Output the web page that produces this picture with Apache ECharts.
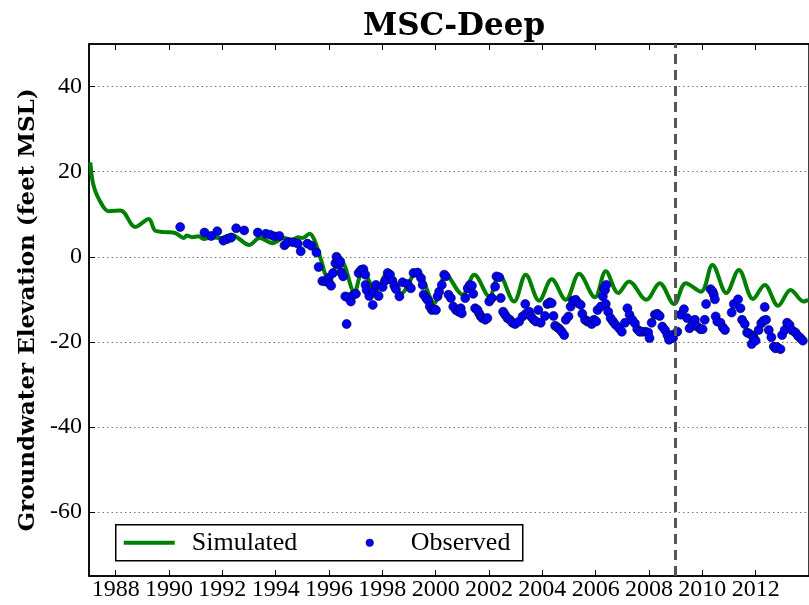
<!DOCTYPE html>
<html>
<head>
<meta charset="utf-8">
<script src="https://cdn.jsdelivr.net/npm/echarts@6/dist/echarts.min.js"></script>
<style>
  html, body { margin: 0; padding: 0; background: #fff; }
  #chart { width: 809px; height: 605px; }
</style>
</head>
<body>
<div id="chart"></div>
<script>
// simulated heads (decimal year, feet MSL)
const simYears = [
    1987.05, 1987.18, 1987.49, 1987.74, 1988.18, 1988.74, 1989.24, 1989.49, 1989.86, 1990.23,
    1990.55, 1990.67, 1990.86, 1991.11, 1991.30, 1991.61, 1991.98, 1992.33, 1993.02, 1993.39,
    1993.89, 1994.30, 1994.64, 1994.83, 1995.01, 1995.27, 1995.45, 1995.70, 1995.95, 1996.45,
    1996.95, 1997.26, 1997.76, 1998.20, 1998.70, 1999.30, 1999.95, 2000.38, 2001.01, 2001.45,
    2002.01, 2002.38, 2002.94, 2003.38, 2003.88, 2004.35, 2004.88, 2005.38, 2005.97, 2006.38,
    2006.85, 2007.25, 2007.90, 2008.40, 2008.94, 2009.38, 2009.95, 2010.38, 2010.90, 2011.37,
    2011.90, 2012.34, 2012.84, 2013.31, 2013.80, 2013.97
];
const simValues = [
    22.2, 16.5, 12.2, 10.7, 10.9, 7.0, 8.9, 6.1, 5.8, 5.6,
    4.4, 5.0, 4.6, 4.8, 4.2, 4.6, 4.4, 5.2, 2.8, 4.4,
    3.2, 4.4, 4.0, 4.6, 4.4, 5.4, 4.0, -0.7, -4.6, -1.1,
    -8.2, -3.4, -7.8, -3.8, -8.6, -3.5, -10.8, -4.2, -8.9, -4.2,
    -9.3, -4.2, -10.5, -4.2, -10.3, -5.3, -10.1, -4.0, -9.5, -3.4,
    -8.5, -5.8, -10.1, -6.2, -11.1, -6.2, -8.2, -1.9, -8.5, -3.1,
    -9.9, -6.6, -11.5, -7.8, -10.5, -10.1
];

// observed heads
const obsYears = [
    1990.42, 1991.33, 1991.58, 1991.81, 1992.04, 1992.19, 1992.33, 1992.52, 1992.82, 1993.33,
    1993.63, 1993.79, 1993.94, 1994.14, 1994.33, 1994.45, 1994.66, 1994.83, 1994.94, 1995.19,
    1995.34, 1995.53, 1995.61, 1995.75, 1995.88, 1995.99, 1996.01, 1996.08, 1996.15, 1996.24,
    1996.28, 1996.33, 1996.37, 1996.42, 1996.46, 1996.53, 1996.61, 1996.66, 1996.70, 1996.82,
    1996.92, 1997.01, 1997.11, 1997.20, 1997.29, 1997.36, 1997.37, 1997.41, 1997.51, 1997.64,
    1997.67, 1997.76, 1997.86, 1998.01, 1998.11, 1998.20, 1998.29, 1998.38, 1998.45, 1998.51,
    1998.64, 1998.76, 1998.95, 1999.07, 1999.17, 1999.32, 1999.45, 1999.51, 1999.55, 1999.64,
    1999.72, 1999.78, 1999.86, 1999.95, 2000.01, 2000.07, 2000.13, 2000.23, 2000.32, 2000.38,
    2000.48, 2000.57, 2000.66, 2000.76, 2000.86, 2000.94, 2000.98, 2001.11, 2001.20, 2001.28,
    2001.36, 2001.41, 2001.48, 2001.57, 2001.63, 2001.69, 2001.75, 2001.86, 2001.94, 2002.01,
    2002.11, 2002.23, 2002.28, 2002.38, 2002.44, 2002.53, 2002.60, 2002.69, 2002.78, 2002.88,
    2002.98, 2003.13, 2003.26, 2003.36, 2003.38, 2003.51, 2003.57, 2003.66, 2003.76, 2003.85,
    2003.94, 2004.10, 2004.19, 2004.28, 2004.35, 2004.42, 2004.48, 2004.57, 2004.65, 2004.73,
    2004.82, 2004.88, 2004.98, 2005.06, 2005.15, 2005.25, 2005.35, 2005.44, 2005.50, 2005.60,
    2005.69, 2005.75, 2005.85, 2005.94, 2006.02, 2006.07, 2006.19, 2006.27, 2006.31, 2006.35,
    2006.40, 2006.38, 2006.47, 2006.56, 2006.65, 2006.75, 2006.88, 2006.98, 2007.10, 2007.19,
    2007.27, 2007.37, 2007.47, 2007.56, 2007.65, 2007.75, 2007.87, 2007.97, 2008.02, 2008.10,
    2008.22, 2008.31, 2008.40, 2008.50, 2008.60, 2008.69, 2008.75, 2008.85, 2008.90, 2009.06,
    2009.18, 2009.31, 2009.43, 2009.52, 2009.62, 2009.72, 2009.81, 2009.93, 2010.01, 2010.09,
    2010.14, 2010.31, 2010.39, 2010.43, 2010.47, 2010.50, 2010.56, 2010.68, 2010.77, 2010.85,
    2011.10, 2011.18, 2011.34, 2011.43, 2011.49, 2011.59, 2011.68, 2011.77, 2011.85, 2011.90,
    2011.93, 2012.00, 2012.11, 2012.21, 2012.30, 2012.34, 2012.39, 2012.49, 2012.59, 2012.68,
    2012.74, 2012.80, 2012.93, 2012.99, 2013.09, 2013.18, 2013.27, 2013.37, 2013.49, 2013.59,
    2013.68, 2013.77
];
const obsValues = [
    7.0, 5.7, 4.9, 6.0, 3.8, 4.2, 4.5, 6.7, 6.2, 5.7,
    5.4, 5.2, 4.8, 4.9, 2.7, 3.4, 3.4, 3.1, 1.3, 3.1,
    2.6, 1.0, -2.4, -5.7, -5.8, -4.9, -6.2, -6.8, -3.8, -1.5,
    0.0, -0.5, -1.8, -1.1, -3.7, -4.6, -9.3, -15.8, -9.5, -10.5,
    -8.9, -8.7, -3.8, -3.1, -2.9, -4.2, -6.6, -7.8, -9.2, -11.3,
    -8.2, -6.6, -9.2, -7.1, -5.6, -3.8, -4.2, -5.6, -6.8, -7.6,
    -9.3, -6.0, -6.4, -7.4, -3.8, -3.7, -5.0, -6.6, -8.9, -9.7,
    -10.3, -11.7, -12.5, -12.3, -12.5, -9.3, -8.2, -6.6, -4.2, -4.6,
    -8.9, -9.7, -11.7, -12.5, -12.9, -12.1, -13.3, -9.7, -7.4, -6.6,
    -6.8, -8.7, -12.1, -12.5, -13.3, -14.0, -14.4, -14.8, -14.4, -10.5,
    -9.7, -7.0, -4.6, -4.8, -9.7, -12.9, -13.6, -14.4, -14.8, -15.5,
    -15.8, -15.2, -14.0, -11.1, -13.4, -12.9, -14.0, -14.7, -15.2, -12.5,
    -15.5, -13.9, -11.1, -10.7, -10.9, -13.9, -16.2, -16.6, -17.0, -17.6,
    -18.4, -14.8, -14.0, -11.7, -10.3, -10.1, -10.9, -11.3, -13.4, -14.8,
    -15.2, -15.2, -15.8, -14.8, -15.2, -12.5, -11.7, -9.3, -7.4, -7.8,
    -6.6, -11.1, -12.9, -14.4, -15.2, -16.0, -16.8, -17.6, -15.5, -12.1,
    -13.6, -14.8, -15.6, -17.0, -17.6, -17.6, -17.6, -17.8, -19.1, -15.5,
    -13.6, -13.4, -13.9, -16.4, -17.2, -18.4, -19.5, -18.4, -19.1, -17.6,
    -13.6, -12.3, -14.4, -16.8, -16.0, -14.8, -16.4, -17.0, -17.0, -14.8,
    -11.1, -7.6, -8.2, -8.9, -10.0, -14.0, -15.2, -15.5, -16.6, -17.2,
    -13.1, -11.1, -10.0, -12.1, -14.8, -15.8, -17.8, -18.1, -20.5, -18.6,
    -19.1, -19.7, -17.2, -15.6, -15.0, -11.8, -14.8, -17.2, -18.9, -21.1,
    -21.5, -21.2, -21.7, -18.4, -17.2, -15.5, -16.0, -17.3, -17.8, -18.6,
    -19.1, -19.7
];

const xTicks = [1988, 1990, 1992, 1994, 1996, 1998, 2000, 2002, 2004, 2006, 2008, 2010, 2012];
const yTicks = [-60, -40, -20, 0, 20, 40];
const cutoffYear = 2009;

const serif = '"Liberation Serif", "DejaVu Serif", serif';
const simColor = '#008000';
const obsColor = '#0000ff';

const chart = echarts.init(document.getElementById('chart'));

// legend box drawn as graphic so spacing matches the matplotlib one
const legendGraphic = {
    type: 'group',
    left: 115,
    top: 524,
    children: [
        { type: 'rect', shape: { x: 0, y: 0, width: 407, height: 36 },
          style: { fill: '#fff', stroke: '#000', lineWidth: 1.5 } },
        { type: 'line', shape: { x1: 8, y1: 18, x2: 59, y2: 18 },
          style: { stroke: simColor, lineWidth: 4 } },
        { type: 'text', x: 76, y: 18,
          style: { text: 'Simulated', fill: '#000', font: '26px ' + serif, textVerticalAlign: 'middle' } },
        { type: 'circle', shape: { cx: 254, cy: 18, r: 3.8 },
          style: { fill: obsColor, stroke: '#000022', lineWidth: 0.5 } },
        { type: 'text', x: 295, y: 18,
          style: { text: 'Observed', fill: '#000', font: '26px ' + serif, textVerticalAlign: 'middle' } }
    ]
};

const option = {
    animation: false,
    backgroundColor: '#fff',
    title: {
        text: 'MSC-Deep',
        left: 449,
        textAlign: 'center',
        top: 6,
        textStyle: {
            fontFamily: '"DejaVu Serif", serif',
            fontWeight: 'bold',
            fontSize: 31,
            color: '#000'
        }
    },
    graphic: [legendGraphic],
    grid: {
        left: 89,
        top: 44,
        width: 721,
        height: 532,
        show: true,
        borderColor: '#000',
        borderWidth: 1.5,
        backgroundColor: 'transparent'
    },
    xAxis: [{
        type: 'value',
        min: 1987,
        max: 2014,
        position: 'bottom',
        axisLine: { show: true, onZero: false, lineStyle: { color: '#000', width: 1.5 } },
        axisTick: { show: true, inside: true, length: 6, customValues: xTicks, lineStyle: { color: '#000' } },
        axisLabel: {
            customValues: xTicks,
            margin: 2,
            color: '#000',
            fontFamily: serif,
            fontSize: 24,
            formatter: v => String(v)
        },
        splitLine: { show: false }
    }, {
        type: 'value',
        min: 1987,
        max: 2014,
        position: 'top',
        axisLine: { show: true, onZero: false, lineStyle: { color: '#000', width: 1.5 } },
        axisTick: { show: true, inside: true, length: 6, customValues: xTicks, lineStyle: { color: '#000' } },
        axisLabel: { show: false },
        splitLine: { show: false }
    }],
    yAxis: {
        type: 'value',
        min: -75,
        max: 50,
        name: 'Groundwater Elevation (feet MSL)',
        nameLocation: 'middle',
        nameGap: 46,
        nameTextStyle: {
            fontFamily: '"DejaVu Serif", serif',
            fontWeight: 'bold',
            fontSize: 23,
            color: '#000'
        },
        axisLine: { show: true, onZero: false, lineStyle: { color: '#000', width: 1.5 } },
        axisTick: { show: true, inside: true, length: 6, customValues: yTicks, lineStyle: { color: '#000' } },
        axisLabel: {
            customValues: yTicks,
            margin: 7,
            color: '#000',
            fontFamily: serif,
            fontSize: 24
        },
        splitLine: {
            show: true,
            lineStyle: { color: '#777', width: 1, type: [1.5, 3] }
        }
    },
    series: [{
        name: 'Simulated',
        type: 'line',
        data: simYears.map((x, i) => [x, simValues[i]]),
        showSymbol: false,
        symbol: 'none',
        smooth: 0.35,
        lineStyle: { color: simColor, width: 4 },
        itemStyle: { color: simColor },
        z: 2,
        markLine: {
            silent: true,
            symbol: ['none', 'none'],
            label: { show: false },
            lineStyle: { color: '#555', width: 3, type: [10, 6] },
            data: [{ xAxis: cutoffYear }]
        }
    }, {
        name: 'Observed',
        type: 'scatter',
        data: obsYears.map((x, i) => [x, obsValues[i]]),
        symbol: 'circle',
        symbolSize: 9,
        itemStyle: { color: obsColor, borderColor: '#000022', borderWidth: 0.6, opacity: 1 },
        z: 3
    }]
};

chart.setOption(option);
</script>
</body>
</html>
